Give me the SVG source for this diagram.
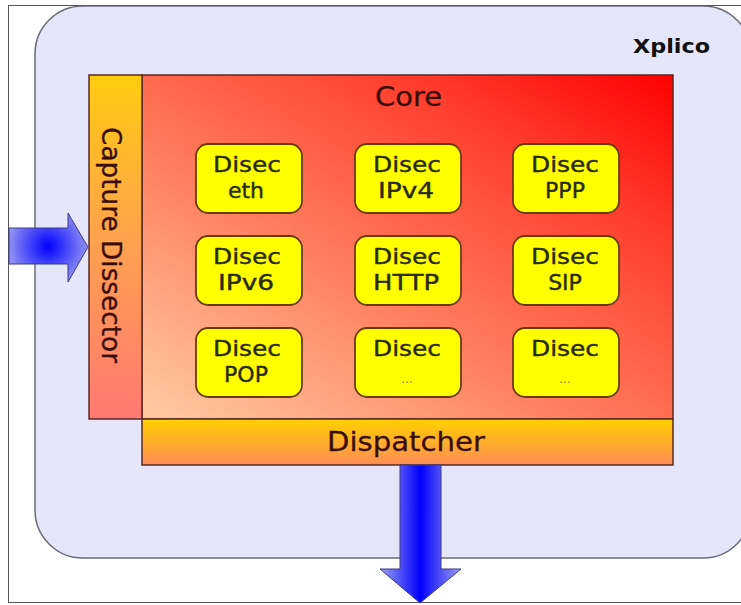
<svg xmlns="http://www.w3.org/2000/svg" width="741" height="605" viewBox="0 0 741 605">
  <defs>
    <linearGradient id="coreFill" x1="0.05" y1="1" x2="1" y2="0">
      <stop offset="0" stop-color="#ffc8a0"/>
      <stop offset="0.4" stop-color="#ff7c5c"/>
      <stop offset="0.75" stop-color="#ff3c2c"/>
      <stop offset="1" stop-color="#ff0000"/>
    </linearGradient>
    <linearGradient id="captureFill" x1="0" y1="0" x2="0" y2="1">
      <stop offset="0" stop-color="#ffcc10"/>
      <stop offset="0.5" stop-color="#ffa050"/>
      <stop offset="1" stop-color="#ff7872"/>
    </linearGradient>
    <linearGradient id="dispatchFill" x1="0" y1="0" x2="0" y2="1">
      <stop offset="0" stop-color="#ffd000"/>
      <stop offset="1" stop-color="#ff8c55"/>
    </linearGradient>
    <radialGradient id="arrowIn" gradientUnits="userSpaceOnUse" cx="48" cy="246" r="46">
      <stop offset="0" stop-color="#0000ff"/>
      <stop offset="1" stop-color="#a8a8f2"/>
    </radialGradient>
    <linearGradient id="arrowOut" x1="0" y1="0" x2="1" y2="0">
      <stop offset="0" stop-color="#a0a0f0"/>
      <stop offset="0.5" stop-color="#0000ff"/>
      <stop offset="1" stop-color="#a0a0f0"/>
    </linearGradient>
    <style>
      .box { fill: #ffff00; stroke: #6a3a10; stroke-width: 1.8; }
      .boxText { font-family: "DejaVu Sans", Verdana, sans-serif; font-size: 22px; fill: #2a2a0a; stroke: #2a2a0a; stroke-width: 0.4; text-anchor: middle; }
      .dots { font-family: "DejaVu Sans", sans-serif; font-size: 12px; fill: #8a7a40; text-anchor: middle; }
      .label { font-family: "DejaVu Sans", Verdana, sans-serif; font-size: 26px; fill: #3a0e08; stroke: #3a0e08; stroke-width: 0.3; text-anchor: middle; }
      .arrow { stroke: #3a3a8a; stroke-width: 1; }
      .edge { stroke: #5a2a20; stroke-width: 1.5; }
    </style>
  </defs>

  <!-- page background and frame -->
  <rect x="0" y="0" width="741" height="605" fill="#ffffff"/>
  <rect x="8.5" y="5.5" width="740" height="597" fill="#ffffff" stroke="#555555" stroke-width="1"/>

  <!-- Xplico container -->
  <g id="xplico">
    <rect x="35" y="6" width="716" height="552" rx="48" ry="48" fill="#e6e6fa" stroke="#6a6a78" stroke-width="1.5"/>
    <text x="671.5" y="53" font-family="DejaVu Sans, sans-serif" font-size="20" font-weight="bold" fill="#111111" text-anchor="middle" textLength="77" lengthAdjust="spacingAndGlyphs">Xplico</text>
  </g>

  <!-- Core area -->
  <g id="core">
    <rect x="142" y="75" width="531" height="344" fill="url(#coreFill)" class="edge"/>
    <text x="408.5" y="106" class="label" textLength="67" lengthAdjust="spacingAndGlyphs">Core</text>
  </g>

  <!-- Capture dissector column -->
  <g id="capture">
    <rect x="89" y="75" width="53" height="344" fill="url(#captureFill)" class="edge"/>
    <text class="label" transform="translate(102 245) rotate(90)" textLength="236" lengthAdjust="spacingAndGlyphs">Capture Dissector</text>
  </g>

  <!-- Dispatcher band -->
  <g id="dispatcher">
    <rect x="142" y="419" width="531" height="46" fill="url(#dispatchFill)" class="edge"/>
    <text x="406" y="451" class="label" textLength="158" lengthAdjust="spacingAndGlyphs">Dispatcher</text>
  </g>

  <!-- Dissector modules -->
  <g id="disec-eth">
    <rect x="196" y="144" width="106" height="69" rx="12" class="box"/>
    <text x="247" y="172" class="boxText" textLength="68" lengthAdjust="spacingAndGlyphs">Disec</text>
    <text x="246" y="198" class="boxText">eth</text>
  </g>
  <g id="disec-ipv4">
    <rect x="355" y="144" width="106" height="69" rx="12" class="box"/>
    <text x="407" y="172" class="boxText" textLength="68" lengthAdjust="spacingAndGlyphs">Disec</text>
    <text x="406" y="198" class="boxText" textLength="56" lengthAdjust="spacingAndGlyphs">IPv4</text>
  </g>
  <g id="disec-ppp">
    <rect x="513" y="144" width="106" height="69" rx="12" class="box"/>
    <text x="565" y="172" class="boxText" textLength="68" lengthAdjust="spacingAndGlyphs">Disec</text>
    <text x="565" y="198" class="boxText">PPP</text>
  </g>
  <g id="disec-ipv6">
    <rect x="196" y="236" width="106" height="69" rx="12" class="box"/>
    <text x="247" y="264" class="boxText" textLength="68" lengthAdjust="spacingAndGlyphs">Disec</text>
    <text x="246" y="290" class="boxText" textLength="56" lengthAdjust="spacingAndGlyphs">IPv6</text>
  </g>
  <g id="disec-http">
    <rect x="355" y="236" width="106" height="69" rx="12" class="box"/>
    <text x="407" y="264" class="boxText" textLength="68" lengthAdjust="spacingAndGlyphs">Disec</text>
    <text x="406" y="290" class="boxText" textLength="66" lengthAdjust="spacingAndGlyphs">HTTP</text>
  </g>
  <g id="disec-sip">
    <rect x="513" y="236" width="106" height="69" rx="12" class="box"/>
    <text x="565" y="264" class="boxText" textLength="68" lengthAdjust="spacingAndGlyphs">Disec</text>
    <text x="565" y="290" class="boxText">SIP</text>
  </g>
  <g id="disec-pop">
    <rect x="196" y="328" width="106" height="69" rx="12" class="box"/>
    <text x="247" y="356" class="boxText" textLength="68" lengthAdjust="spacingAndGlyphs">Disec</text>
    <text x="246" y="382" class="boxText">POP</text>
  </g>
  <g id="disec-more1">
    <rect x="355" y="328" width="106" height="69" rx="12" class="box"/>
    <text x="407" y="356" class="boxText" textLength="68" lengthAdjust="spacingAndGlyphs">Disec</text>
    <text x="407" y="383" class="dots">...</text>
  </g>
  <g id="disec-more2">
    <rect x="513" y="328" width="106" height="69" rx="12" class="box"/>
    <text x="565" y="356" class="boxText" textLength="68" lengthAdjust="spacingAndGlyphs">Disec</text>
    <text x="565" y="383" class="dots">...</text>
  </g>

  <!-- Data flow arrows -->
  <g id="connectors">
    <path class="arrow" fill="url(#arrowIn)" d="M9 228 L68 228 L68 213 L88 247 L68 282 L68 264 L9 264 Z"/>
    <path class="arrow" fill="url(#arrowOut)" d="M400 465 L441 465 L441 569 L461 569 L420 603 L380 569 L400 569 Z"/>
  </g>
</svg>
